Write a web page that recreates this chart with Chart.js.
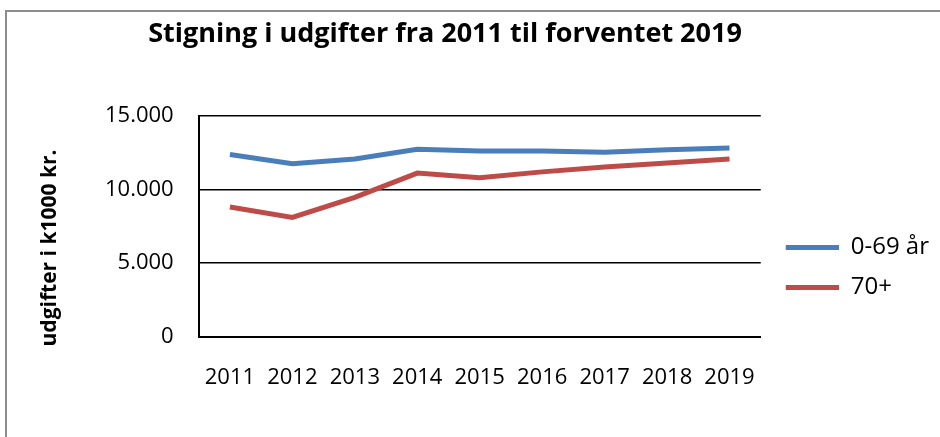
<!DOCTYPE html>
<html>
<head>
<meta charset="utf-8">
<script src="https://cdn.jsdelivr.net/npm/chart.js@4.4.0/dist/chart.umd.min.js"></script>
<style>
  html, body { margin: 0; padding: 0; background: #fff; }
  #wrap { width: 940px; height: 437px; }
</style>
</head>
<body>
<div id="wrap"><canvas id="udgiftChart" width="940" height="437"></canvas></div>
<script>
// ===== DATA =====
const years = ['2011', '2012', '2013', '2014', '2015', '2016', '2017', '2018', '2019'];
const under70 = [12380, 11760, 12080, 12740, 12620, 12620, 12530, 12700, 12830];
const over70 = [8810, 8100, 9470, 11120, 10800, 11200, 11530, 11800, 12080];
const seriesNames = ['0-69 år', '70+'];
const yTicks = [0, 5000, 10000, 15000];
const chartTitle = 'Stigning i udgifter fra 2011 til forventet 2019';
const yTitle = 'udgifter i k1000 kr.';

const FONT = "'Open Sans', 'DejaVu Sans', sans-serif";
const BLUE = '#4a7ebb';
const RED = '#be4b48';

// danish thousands separator
function fmt(v) {
  return String(v).replace(/\B(?=(\d{3})+(?!\d))/g, '.');
}

// legend swatch: short thick line with a little blank space on its left
function legendMark(color) {
  const c = document.createElement('canvas');
  c.width = 62;
  c.height = 5;
  const g = c.getContext('2d');
  g.fillStyle = color;
  g.fillRect(9, 0, 53, 5);
  return c;
}

// ===== FRAME + TITLES =====
// title and axis title sit off-centre in the original, so they are drawn here
const framePlugin = {
  id: 'frame',
  beforeDraw(chart) {
    const ctx = chart.ctx;
    ctx.save();
    ctx.fillStyle = '#fff';
    ctx.fillRect(0, 0, chart.width, chart.height);
    ctx.strokeStyle = '#8c8c8c';
    ctx.lineWidth = 2;
    ctx.beginPath();
    ctx.moveTo(6, chart.height);
    ctx.lineTo(6, 11);
    ctx.lineTo(chart.width, 11);
    ctx.stroke();
    ctx.restore();
  },
  afterDraw(chart) {
    const ctx = chart.ctx;
    ctx.save();
    ctx.fillStyle = '#000';
    ctx.font = 'bold 27px ' + FONT;
    ctx.textAlign = 'center';
    ctx.textBaseline = 'alphabetic';
    ctx.fillText(chartTitle, 445, 42);

    ctx.translate(50, 248);
    ctx.rotate(-Math.PI / 2);
    ctx.font = 'bold 21px ' + FONT;
    ctx.textBaseline = 'middle';
    ctx.fillText(yTitle, 0, 0);
    ctx.restore();
  }
};

// ===== LINE CHART =====
const ctx = document.getElementById('udgiftChart').getContext('2d');
new Chart(ctx, {
  type: 'line',
  data: {
    labels: years,
    datasets: [{
      label: seriesNames[0],
      data: under70,
      borderColor: BLUE,
      backgroundColor: BLUE,
      borderWidth: 5,
      pointRadius: 0,
      pointStyle: legendMark(BLUE),
      tension: 0
    }, {
      label: seriesNames[1],
      data: over70,
      borderColor: RED,
      backgroundColor: RED,
      borderWidth: 5,
      pointRadius: 0,
      pointStyle: legendMark(RED),
      tension: 0
    }]
  },
  options: {
    responsive: false,
    animation: false,
    layout: { padding: { left: 80, right: 1, top: 116, bottom: 18 } },
    plugins: {
      title: { display: false },
      tooltip: { enabled: false },
      legend: {
        position: 'right',
        labels: {
          usePointStyle: true,
          pointStyleWidth: 62,
          padding: 16,
          color: '#000',
          font: { family: FONT, size: 24 }
        }
      }
    },
    scales: {
      x: {
        offset: true,
        grid: { display: false, drawTicks: false },
        border: { display: true, color: '#000', width: 2 },
        ticks: { color: '#000', padding: 28, maxRotation: 0, font: { family: FONT, size: 22 } }
      },
      y: {
        min: 0,
        max: 15000,
        afterBuildTicks(scale) {
          scale.ticks = yTicks.map(v => ({ value: v }));
        },
        grid: { color: '#000', lineWidth: 1.5, drawTicks: false },
        border: { display: true, color: '#000', width: 2 },
        ticks: {
          color: '#000',
          padding: 25,
          font: { family: FONT, size: 22 },
          callback: v => fmt(v)
        }
      }
    }
  },
  plugins: [framePlugin]
});
</script>
</body>
</html>
